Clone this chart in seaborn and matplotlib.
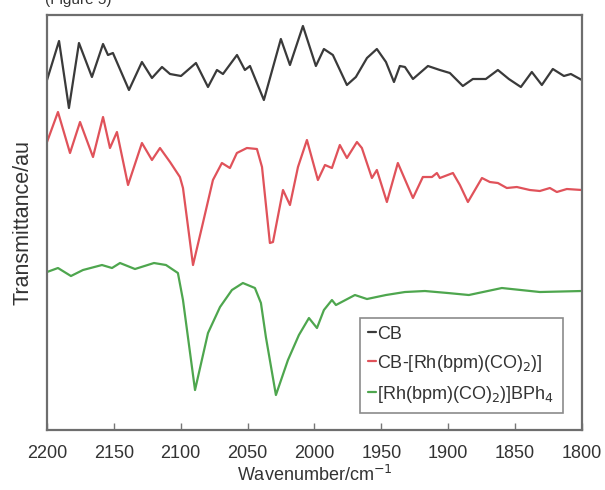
import matplotlib
matplotlib.use("Agg")
import matplotlib.pyplot as plt
import seaborn as sns
import pandas as pd

# ---- data ----
cb_wn = [2200, 2191.0, 2183.6, 2176.1, 2166.4, 2158.1, 2154.4, 2150.7, 2138.7, 2129.0,
         2121.5, 2114.0, 2108.0, 2099.8, 2088.6, 2079.6, 2072.9, 2068.4, 2057.9, 2052.0,
         2048.2, 2037.8, 2025.1, 2018.3, 2008.6, 1998.9, 1992.9, 1986.2, 1975.7, 1969.0,
         1960.7, 1953.3, 1946.5, 1940.5, 1936.1, 1932.3, 1926.3, 1915.1, 1906.2, 1898.7,
         1889.0, 1881.5, 1871.8, 1862.8, 1854.6, 1845.6, 1837.4, 1829.9, 1821.7, 1813.4,
         1808.2, 1800]
cb_t = [350, 389, 322, 387, 353, 386, 375, 377, 340, 368,
        352, 363, 356, 354, 367, 343, 360, 356, 375, 360,
        364, 330, 391, 365, 404, 364, 381, 375, 345, 353,
        372, 381, 368, 348, 364, 363, 351, 364, 360, 357,
        344, 351, 351, 360, 351, 343, 358, 345, 361, 354,
        356, 350]

rh_cb_wn = [2200, 2191.8, 2182.8, 2175.3, 2165.6, 2158.1, 2152.9, 2147.7, 2139.4, 2129.0,
            2121.5, 2115.5, 2108.0, 2100.6, 2098.3, 2090.8, 2083.4, 2075.9, 2069.2, 2063.2,
            2058.0, 2050.5, 2043.0, 2039.2, 2033.3, 2031.0, 2023.5, 2018.3, 2012.3, 2005.6,
            1997.4, 1992.1, 1986.9, 1981.0, 1975.7, 1968.2, 1964.5, 1957.0, 1953.3, 1945.8,
            1937.6, 1926.3, 1918.9, 1912.1, 1908.4, 1906.2, 1896.4, 1891.2, 1885.2, 1874.7,
            1868.8, 1862.8, 1856.1, 1848.6, 1838.9, 1831.4, 1823.9, 1818.7, 1811.2, 1800]
rh_cb_t = [288, 318, 277, 308, 273, 313, 282, 298, 245, 287,
           270, 282, 268, 253, 242, 165, 207, 250, 267, 262,
           277, 282, 281, 263, 187, 188, 240, 225, 263, 290,
           250, 265, 262, 285, 272, 288, 282, 252, 260, 228,
           267, 232, 253, 253, 257, 252, 257, 245, 228, 252,
           248, 247, 242, 243, 240, 239, 242, 238, 241, 240]

rh_wn = [2200, 2191.8, 2182.1, 2173.1, 2158.9, 2151.4, 2145.4, 2134.2, 2120.0, 2111.0,
         2102.1, 2098.3, 2089.3, 2079.6, 2070.6, 2061.7, 2053.5, 2044.5, 2040.0, 2036.3,
         2028.8, 2019.8, 2011.6, 2004.1, 1998.1, 1992.9, 1986.9, 1983.9, 1969.7, 1960.7,
         1946.5, 1932.3, 1917.4, 1900.2, 1884.5, 1859.8, 1831.4, 1800]
rh_t = [158, 162, 154, 160, 165, 162, 167, 161, 167, 165,
        157, 130, 40, 97, 123, 140, 147, 142, 127, 93,
        35, 70, 95, 112, 102, 120, 130, 125, 135, 131,
        135, 138, 139, 137, 135, 142, 138, 139]

labels = ["CB", "CB-[Rh(bpm)(CO)$_2$)]", "[Rh(bpm)(CO)$_2$)]BPh$_4$"]
colors = ["#3a3a3a", "#e0525a", "#4ea64e"]
xticks = [2200, 2150, 2100, 2050, 2000, 1950, 1900, 1850, 1800]

df = pd.concat([
    pd.DataFrame({"wn": cb_wn, "T": cb_t, "sample": labels[0]}),
    pd.DataFrame({"wn": rh_cb_wn, "T": rh_cb_t, "sample": labels[1]}),
    pd.DataFrame({"wn": rh_wn, "T": rh_t, "sample": labels[2]}),
])

sns.set_theme(style="white")
plt.rcParams["font.family"] = ["Liberation Sans", "DejaVu Sans"]

fig = plt.figure(figsize=(6.05, 4.90), dpi=100)
ax = fig.add_axes([0.0777, 0.1224, 0.884, 0.847])

sns.lineplot(data=df, x="wn", y="T", hue="sample", palette=colors,
             hue_order=labels, linewidth=1.6, ax=ax, sort=True)

ax.set_xlim(2200, 1800)
ax.set_ylim(0, 415)
ax.set_xticks(xticks)
ax.set_xticklabels([str(t) for t in xticks], fontsize=13, color="#333333")
ax.set_yticks([])
ax.tick_params(axis="x", direction="in", length=5, width=1, color="#777777",
               bottom=True, top=False, pad=11)
for s in ax.spines.values():
    s.set_color("#6e6e6e")
    s.set_linewidth(1.6)
ax.set_xlabel("Wavenumber/cm$^{-1}$", fontsize=13, color="#333333", labelpad=2)
ax.set_ylabel("Transmittance/au", fontsize=15.5, color="#333333", labelpad=10)

leg = ax.legend(loc="lower right", bbox_to_anchor=(0.981, 0.02), frameon=True,
                fancybox=False, handlelength=0.4, handletextpad=0.1,
                fontsize=13, labelspacing=0.55, borderpad=0.45)
leg.get_frame().set_edgecolor("#6e6e6e")
leg.get_frame().set_linewidth(1.2)
for t in leg.get_texts():
    t.set_color("#333333")

fig.text(0.075, 1.0, "(Figure 5)", fontsize=11, color="#333333", va="center")

fig.savefig("out.png", dpi=100)
